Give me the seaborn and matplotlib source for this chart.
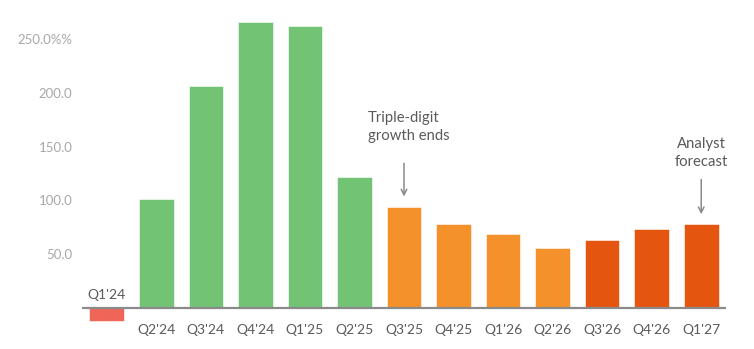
import matplotlib
matplotlib.use("Agg")
import matplotlib.pyplot as plt
import seaborn as sns

# quarterly growth, % y/y
quarters = ["Q1'24", "Q2'24", "Q3'24", "Q4'24", "Q1'25", "Q2'25", "Q3'25",
            "Q4'25", "Q1'26", "Q2'26", "Q3'26", "Q4'26", "Q1'27"]
growth = [-12, 101, 206, 266, 262, 122, 94, 78, 69, 56, 63, 73, 78.5]
phase = ["decline", "triple", "triple", "triple", "triple", "triple", "actual",
         "actual", "actual", "actual", "forecast", "forecast", "forecast"]
phase_colors = {"decline": "#EF6558", "triple": "#72C474",
                "actual": "#F5912A", "forecast": "#E4550F"}
ytick_vals = [50, 100, 150, 200, 250]
ytick_labels = ["50.0", "100.0", "150.0", "200.0", "250.0%%"]

sns.set_style("white")
plt.rcParams["font.family"] = ["Lato", "DejaVu Sans"]

fig = plt.figure(figsize=(7.54, 3.49), dpi=100)
ax = fig.add_axes([82 / 754, 0, 644 / 754, 1])

sns.barplot(x=quarters, y=growth, hue=phase, palette=phase_colors,
            dodge=False, width=0.7, saturation=1, legend=False, ax=ax,
            edgecolor="#ffffff", linewidth=0.4)

ax.set_xlim(-0.5, len(quarters) - 0.5)
ax.set_ylim(-38.1, 286.2)
ax.axhline(0, color="#8a8a8a", lw=1.6, zorder=5)

for s in ax.spines.values():
    s.set_visible(False)
ax.set_xticks([])
ax.set_yticks(ytick_vals)
ax.set_yticklabels(ytick_labels, color="#a8a8a8", fontsize=9.5)
ax.tick_params(axis="y", length=0, pad=7)
ax.set_xlabel("")
ax.set_ylabel("")

for i, (q, v) in enumerate(zip(quarters, growth)):
    if v < 0:
        ax.annotate(q, (i, 0), xytext=(0, 9), textcoords="offset points",
                    ha="center", va="center", fontsize=10, color="#5a5a5a")
    else:
        ax.annotate(q, (i, 0), xytext=(0, -16), textcoords="offset points",
                    ha="center", va="center", fontsize=10, color="#5a5a5a")

arrow = dict(arrowstyle="->", color="#8a8a8a", lw=1.1)
ax.annotate("", xy=(6, growth[6] + 7), xytext=(6, 137), arrowprops=arrow)
ax.text(5.27, 153, "Triple-digit\ngrowth ends", ha="left", va="bottom",
        fontsize=10.7, color="#5a5a5a", linespacing=1.35)
ax.annotate("", xy=(12, growth[12] + 6), xytext=(12, 122), arrowprops=arrow)
ax.text(12, 129, "Analyst\nforecast", ha="center", va="bottom",
        fontsize=10.7, color="#5a5a5a", linespacing=1.35)

fig.savefig("out.png", dpi=100)
